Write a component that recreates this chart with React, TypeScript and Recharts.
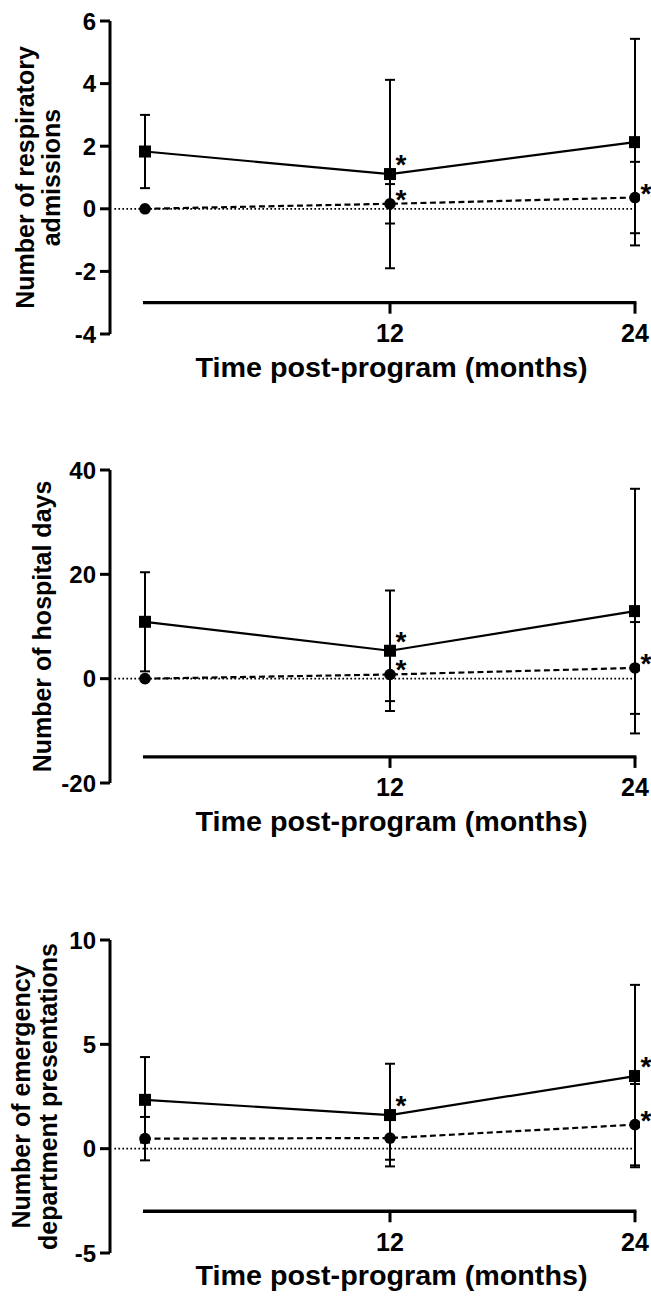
import { ComposedChart, Line, XAxis, YAxis, ErrorBar, ReferenceLine, LabelList } from 'recharts';

// shared x values
const months = [0, 12, 24];
const xTicks = [12, 24];

// respiratory admissions
const respYTicks = [-4, -2, 0, 2, 4, 6];
const respSquare = [1.83, 1.11, 2.13];
const respSquareErr = [1.17, 3.01, 3.3];
const respCircle = [0, 0.16, 0.36];
const respCircleErr = [0, 0.63, 1.14];
const respSquareSig = ['', '*', ''];
const respCircleSig = ['', '*', '*'];

// hospital days
const daysYTicks = [-20, 0, 20, 40];
const daysSquare = [10.9, 5.35, 12.95];
const daysSquareErr = [9.5, 11.55, 23.45];
const daysCircle = [0, 0.8, 2.05];
const daysCircleErr = [0, 5.1, 8.8];
const daysSquareSig = ['', '*', ''];
const daysCircleSig = ['', '*', '*'];

// emergency department presentations
const edYTicks = [-5, 0, 5, 10];
const edSquare = [2.34, 1.61, 3.48];
const edSquareErr = [2.05, 2.46, 4.37];
const edCircle = [0.48, 0.51, 1.15];
const edCircleErr = [1.04, 1.04, 1.95];
const edSquareSig = ['', '*', '*'];
const edCircleSig = ['', '', '*'];

const X_TITLE = 'Time post-program (months)';

const PLOT_TOP = 20;
const PLOT_H = 313;
const FONT = '"Liberation Sans", Arial, Helvetica, sans-serif';

type Panel = {
  plotTop: number;
  axisH: number;
  yTicks: number[];
  xLine: number;
  yLabel: string[];
  yLabelX: number[];
  rows: any[];
};

const buildRows = (sq: number[], sqErr: number[], ci: number[], ciErr: number[], sqSig: string[], ciSig: string[]) =>
  months.map((m, i) => ({
    month: m,
    sq: sq[i],
    sqErr: sqErr[i],
    ci: ci[i],
    ciErr: ciErr[i],
    sqSig: sqSig[i],
    ciSig: ciSig[i],
  }));

const panels: Panel[] = [
  {
    plotTop: 20.5,
    axisH: 60,
    yTicks: respYTicks,
    xLine: -3,
    yLabel: ['Number of respiratory', 'admissions'],
    yLabelX: [25, 51],
    rows: buildRows(respSquare, respSquareErr, respCircle, respCircleErr, respSquareSig, respCircleSig),
  },
  {
    plotTop: 470,
    axisH: 60,
    yTicks: daysYTicks,
    xLine: -15,
    yLabel: ['Number of hospital days'],
    yLabelX: [42],
    rows: buildRows(daysSquare, daysSquareErr, daysCircle, daysCircleErr, daysSquareSig, daysCircleSig),
  },
  {
    plotTop: 940,
    axisH: 45,
    yTicks: edYTicks,
    xLine: -3,
    yLabel: ['Number of emergency', 'department presentations'],
    yLabelX: [21, 48],
    rows: buildRows(edSquare, edSquareErr, edCircle, edCircleErr, edSquareSig, edCircleSig),
  },
];

const squareDot = (props: any) => {
  const { cx, cy, index } = props;
  if (cx == null || cy == null) return <g key={index} />;
  return <rect key={index} x={cx - 6} y={cy - 6} width={12} height={12} fill="#000" />;
};

const circleDot = (props: any) => {
  const { cx, cy, index } = props;
  if (cx == null || cy == null) return <g key={index} />;
  return <circle key={index} cx={cx} cy={cy} r={5.8} fill="#000" />;
};

const starLabel = (dy: number) => (props: any) => {
  const { x, y, value } = props;
  if (!value) return null;
  return (
    <text x={x + 11} y={y + dy + 16} fontSize={28} fontWeight="bold" textAnchor="middle" fill="#000">
      {value}
    </text>
  );
};

function PanelChart({ p }: { p: Panel }) {
  const yMin = p.yTicks[0];
  const yMax = p.yTicks[p.yTicks.length - 1];
  const lineY = PLOT_TOP + (PLOT_H * (yMax - p.xLine)) / (yMax - yMin);
  const midY = PLOT_TOP + PLOT_H / 2;

  const xTick = (props: any) => {
    const { x, payload } = props;
    return (
      <g>
        <line x1={x} x2={x} y1={lineY} y2={lineY + 11} stroke="#000" strokeWidth={3} />
        <text x={x} y={lineY + 39.5} textAnchor="middle" fontSize={25} fontWeight="bold" fill="#000">
          {payload.value}
        </text>
      </g>
    );
  };

  const xTitle = () => (
    <text
      x={391.5}
      y={lineY + 74}
      textAnchor="middle"
      fontSize={27}
      fontWeight="bold"
      fill="#000"
      textLength={392}
      lengthAdjust="spacingAndGlyphs"
    >
      {X_TITLE}
    </text>
  );

  const yTitle = () => (
    <g>
      {p.yLabel.map((t, i) => (
        <text
          key={i}
          x={p.yLabelX[i]}
          y={midY}
          transform={`rotate(-90, ${p.yLabelX[i]}, ${midY})`}
          textAnchor="middle"
          dominantBaseline="central"
          fontSize={25}
          fontWeight="bold"
          fill="#000"
        >
          {t}
        </text>
      ))}
    </g>
  );

  return (
    <div style={{ position: 'absolute', left: 0, top: p.plotTop - PLOT_TOP }}>
      <ComposedChart
        width={651}
        height={PLOT_TOP + PLOT_H + p.axisH}
        data={p.rows}
        margin={{ top: PLOT_TOP, right: 11, bottom: 0, left: 0 }}
      >
        <XAxis
          type="number"
          dataKey="month"
          domain={[-1.714, 24.245]}
          ticks={xTicks}
          interval={0}
          allowDataOverflow
          axisLine={false}
          tickLine={false}
          tickSize={0}
          tickMargin={0}
          height={p.axisH}
          tick={xTick}
          label={xTitle}
        />
        <YAxis
          type="number"
          domain={[yMin, yMax]}
          ticks={p.yTicks}
          interval={0}
          allowDataOverflow
          width={110}
          axisLine={{ stroke: '#000', strokeWidth: 3 }}
          tickLine={{ stroke: '#000', strokeWidth: 3 }}
          tickSize={10}
          tickMargin={4}
          tick={{ fontSize: 24, fontWeight: 'bold', fill: '#000' }}
          label={yTitle}
        />
        <ReferenceLine
          segment={[{ x: -1.5, y: 0 }, { x: 24, y: 0 }]}
          stroke="#000"
          strokeWidth={1.7}
          strokeDasharray="1.7 2.3"
        />
        <ReferenceLine
          segment={[{ x: -0.1, y: p.xLine }, { x: 24.07, y: p.xLine }]}
          stroke="#000"
          strokeWidth={3.3}
        />
        <Line
          type="linear"
          dataKey="ci"
          stroke="#000"
          strokeWidth={2.2}
          strokeDasharray="6 3.5"
          dot={circleDot}
          activeDot={false}
          isAnimationActive={false}
        >
          <ErrorBar dataKey="ciErr" direction="y" width={5} stroke="#000" strokeWidth={2} />
          <LabelList dataKey="ciSig" content={starLabel(-11)} />
        </Line>
        <Line
          type="linear"
          dataKey="sq"
          stroke="#000"
          strokeWidth={2.2}
          dot={squareDot}
          activeDot={false}
          isAnimationActive={false}
        >
          <ErrorBar dataKey="sqErr" direction="y" width={5} stroke="#000" strokeWidth={2} />
          <LabelList dataKey="sqSig" content={starLabel(-16)} />
        </Line>
      </ComposedChart>
    </div>
  );
}

export default function App() {
  return (
    <div
      style={{
        position: 'absolute',
        left: 0,
        top: 0,
        width: 651,
        height: 1296,
        overflow: 'hidden',
        background: '#fff',
        fontFamily: FONT,
      }}
    >
      {panels.map((p, i) => (
        <PanelChart key={i} p={p} />
      ))}
    </div>
  );
}
